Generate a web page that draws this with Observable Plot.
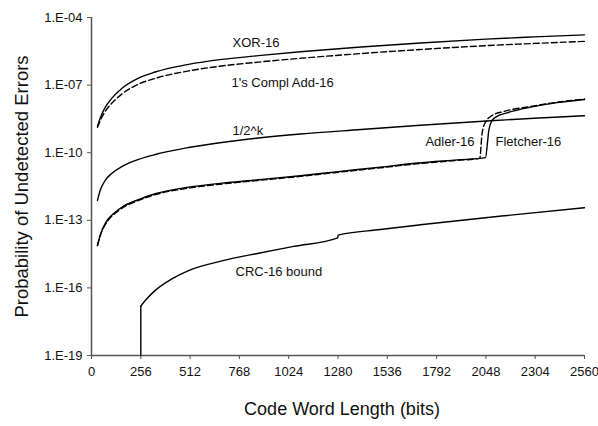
<!DOCTYPE html>
<html><head><meta charset="utf-8">
<script src="https://cdn.jsdelivr.net/npm/d3@7"></script>
<script src="https://cdn.jsdelivr.net/npm/@observablehq/plot@0.6"></script>
<style>
html,body{margin:0;padding:0;background:#fff;}
#chart svg{display:block;}
</style></head><body><div id="chart"></div>
<script>
// Axis ticks
const xTicks = [0, 256, 512, 768, 1024, 1280, 1536, 1792, 2048, 2304, 2560];
const yTicks = [1e-4, 1e-7, 1e-10, 1e-13, 1e-16, 1e-19];

// XOR-16 (solid)
const xorBits = [31, 45, 71, 105, 157, 244, 331, 504, 677, 867, 1085, 1400, 1708, 2048, 2300, 2560];
const xorProb = [1.45e-9, 3.39e-9, 1.02e-8, 2.57e-8, 7.08e-8, 2.04e-7, 3.80e-7, 8.32e-7, 1.38e-6, 2.04e-6, 3.02e-6, 4.90e-6, 7.41e-6, 1.10e-5, 1.38e-5, 1.70e-5];

// 1's Compl Add-16 (dashed)
const onesBits = [31, 45, 71, 105, 157, 244, 331, 504, 677, 867, 1085, 1400, 1708, 2048, 2300, 2560];
const onesProb = [1.35e-9, 2.63e-9, 6.76e-9, 1.55e-8, 3.98e-8, 1.10e-7, 2.00e-7, 4.27e-7, 7.08e-7, 1.05e-6, 1.55e-6, 2.51e-6, 3.80e-6, 5.62e-6, 7.08e-6, 8.71e-6];

// 1/2^k (solid)
const halfBits = [31, 45, 71, 105, 157, 244, 331, 504, 728, 867, 1085, 1400, 1708, 2072, 2300, 2560];
const halfProb = [7.59e-13, 2.09e-12, 5.89e-12, 1.20e-11, 2.40e-11, 5.01e-11, 8.32e-11, 1.70e-10, 3.24e-10, 4.47e-10, 6.76e-10, 1.07e-9, 1.66e-9, 2.63e-9, 3.39e-9, 4.37e-9];

// Adler-16 (solid)
const adlerBits = [31, 42, 54, 71, 88, 123, 157, 244, 331, 504, 677, 867, 1085, 1258, 1500, 1691, 1900, 2046, 2058, 2063, 2080, 2106, 2158, 2279, 2418, 2560];
const adlerProb = [7.59e-15, 1.78e-14, 3.55e-14, 7.08e-14, 1.17e-13, 2.29e-13, 3.80e-13, 8.32e-13, 1.51e-12, 2.95e-12, 4.47e-12, 6.31e-12, 9.55e-12, 1.38e-11, 2.29e-11, 3.47e-11, 4.79e-11, 6.03e-11, 3.98e-10, 9.77e-10, 2.69e-9, 4.07e-9, 5.89e-9, 1.05e-8, 1.66e-8, 2.29e-8];

// Fletcher-16 (dashed)
const fletBits = [31, 42, 54, 71, 88, 123, 157, 244, 331, 504, 677, 867, 1085, 1258, 1500, 1691, 1900, 2016, 2028, 2046, 2080, 2141, 2279, 2418, 2560];
const fletProb = [7.59e-15, 1.66e-14, 3.24e-14, 6.31e-14, 1.05e-13, 2.04e-13, 3.39e-13, 7.59e-13, 1.38e-12, 2.69e-12, 4.07e-12, 5.89e-12, 8.91e-12, 1.29e-11, 2.14e-11, 3.24e-11, 4.57e-11, 5.62e-11, 6.92e-10, 2.29e-9, 4.47e-9, 6.76e-9, 1.12e-8, 1.74e-8, 2.40e-8];

// CRC-16 bound (solid); first point is the drop to the axis floor at 256 bits
const crcBits = [256, 256, 279, 331, 417, 504, 677, 867, 1050, 1279, 1280, 1500, 1708, 2130, 2560];
const crcProb = [1e-19, 1.55e-17, 2.75e-17, 7.76e-17, 2.51e-16, 5.89e-16, 1.58e-15, 3.47e-15, 6.92e-15, 1.66e-14, 2.19e-14, 3.89e-14, 6.31e-14, 1.55e-13, 3.63e-13];

// Curve labels
const labelText = ["XOR-16", "1's Compl Add-16", "1/2^k", "Adler-16", "Fletcher-16", "CRC-16 bound"];
const labelBits = [732, 727, 732, 1989, 2098, 748];
const labelProb = [7.76e-6, 1.32e-7, 9.77e-10, 2.95e-10, 2.95e-10, 5.37e-16];
const labelAnchor = ["start", "start", "start", "end", "start", "start"];

const xTitle = "Code Word Length (bits)";
const yTitle = "Probability of Undetected Errors";

const toRows = (name, bits, prob) => bits.map((b, i) => ({name, bits: b, prob: prob[i]}));
const solidRows = [
  ...toRows("XOR-16", xorBits, xorProb),
  ...toRows("1/2^k", halfBits, halfProb),
  ...toRows("Adler-16", adlerBits, adlerProb),
  ...toRows("CRC-16 bound", crcBits.slice(1), crcProb.slice(1))
];
const dashedRows = [
  ...toRows("1's Compl Add-16", onesBits, onesProb),
  ...toRows("Fletcher-16", fletBits, fletProb)
];
const crcDrop = toRows("CRC-16 drop", crcBits.slice(0, 2), crcProb.slice(0, 2));
const labels = labelText.map((t, i) => ({text: t, bits: labelBits[i], prob: labelProb[i], anchor: labelAnchor[i]}));

const fmt = d => "1.E-" + String(-Math.round(Math.log10(d))).padStart(2, "0");
const font = "'Liberation Sans', Arial, Helvetica, sans-serif";

const chart = Plot.plot({
  width: 598, height: 426,
  marginLeft: 91, marginRight: 14, marginTop: 17, marginBottom: 71,
  style: {fontFamily: font, fontSize: "13px", color: "#111", background: "#fff"},
  x: {domain: [0, 2560]},
  y: {type: "log", domain: [1e-19, 1e-4]},
  marks: [
    Plot.axisX({ticks: xTicks, tickSize: 4, tickPadding: 7, label: null, tickFormat: d => String(d), stroke: "#555", fill: "#111", fontSize: 13}),
    Plot.axisY({ticks: yTicks, tickSize: 4, tickPadding: 5, label: null, tickFormat: fmt, stroke: "#555", fill: "#111", fontSize: 13}),
    Plot.ruleY([1e-19], {stroke: "#555", strokeWidth: 1.5}),
    Plot.ruleX([0], {stroke: "#555", strokeWidth: 1.5}),
    Plot.line(crcDrop, {x: "bits", y: "prob", stroke: "#000", strokeWidth: 1.4}),
    Plot.line(solidRows, {x: "bits", y: "prob", z: "name", stroke: "#000", strokeWidth: 1.4, curve: "monotone-x"}),
    Plot.line(dashedRows, {x: "bits", y: "prob", z: "name", stroke: "#000", strokeWidth: 1.4, strokeDasharray: "6,3", curve: "monotone-x"}),
    Plot.text(labels.filter(l => l.anchor === "start"), {x: "bits", y: "prob", text: "text", textAnchor: "start", fill: "#111", fontSize: 13}),
    Plot.text(labels.filter(l => l.anchor === "end"), {x: "bits", y: "prob", text: "text", textAnchor: "end", fill: "#111", fontSize: 13}),
    Plot.text([yTitle], {frameAnchor: "left", textAnchor: "middle", rotate: -90, dx: -69, fill: "#111", fontSize: 18.5}),
    Plot.text([xTitle], {frameAnchor: "bottom", textAnchor: "middle", dy: 59, dx: 4, fill: "#111", fontSize: 18})
  ]
});
document.getElementById("chart").appendChild(chart);
</script>
</body></html>
